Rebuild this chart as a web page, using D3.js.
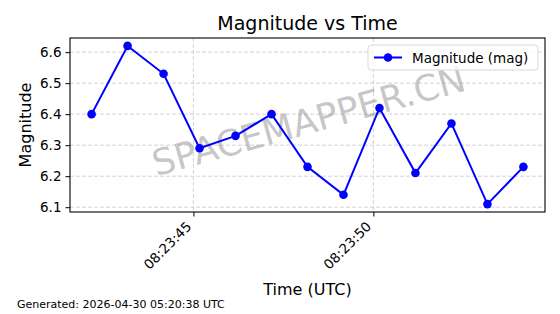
<!DOCTYPE html>
<html>
<head>
<meta charset="utf-8">
<script src="https://cdn.jsdelivr.net/npm/d3@7"></script>
<style>
  body { margin: 0; background: #fff; }
  text { font-family: "DejaVu Sans", sans-serif; fill: #000; }
</style>
</head>
<body>
<svg id="chart" width="560" height="314"></svg>
<script>
// ------- Data -------
const seconds = [42.17, 43.17, 44.17, 45.17, 46.17, 47.17, 48.17, 49.17, 50.17, 51.17, 52.17, 53.17, 54.17];
const magnitudes = [6.40, 6.62, 6.53, 6.29, 6.33, 6.40, 6.23, 6.14, 6.42, 6.21, 6.37, 6.11, 6.23];
const xTicks = [45, 50];
const xTickLabels = ['08:23:45', '08:23:50'];
const yTicks = [6.1, 6.2, 6.3, 6.4, 6.5, 6.6];

const svg = d3.select('#chart');
const margin = {top: 38, left: 70, right: 15, bottom: 102};
const width = +svg.attr('width');
const height = +svg.attr('height');
const innerWidth = width - margin.left - margin.right;
const innerHeight = height - margin.top - margin.bottom;

const toDate = s => new Date(Date.UTC(2026, 3, 30, 8, 23, 0) + s * 1000);
const data = seconds.map((s, i) => ({time: toDate(s), mag: magnitudes[i]}));

// matplotlib-like 5% margins
const tExt = d3.extent(seconds);
const tPad = (tExt[1] - tExt[0]) * 0.05;
const x = d3.scaleUtc()
    .domain([toDate(tExt[0] - tPad), toDate(tExt[1] + tPad)])
    .range([0, innerWidth]);

const mExt = d3.extent(magnitudes);
const mPad = (mExt[1] - mExt[0]) * 0.05;
const y = d3.scaleLinear()
    .domain([mExt[0] - mPad, mExt[1] + mPad])
    .range([innerHeight, 0]);

const g = svg.append('g').attr('transform', `translate(${margin.left}, ${margin.top})`);

// ------- Grid -------
g.append('g')
    .selectAll('line')
    .data(yTicks)
    .join('line')
        .attr('x1', 0).attr('x2', innerWidth)
        .attr('y1', d => y(d)).attr('y2', d => y(d))
        .attr('stroke', '#b0b0b0').attr('stroke-opacity', 0.7)
        .attr('stroke-dasharray', '4,2').attr('stroke-width', 0.8);

g.append('g')
    .selectAll('line')
    .data(xTicks)
    .join('line')
        .attr('x1', d => x(toDate(d))).attr('x2', d => x(toDate(d)))
        .attr('y1', 0).attr('y2', innerHeight)
        .attr('stroke', '#b0b0b0').attr('stroke-opacity', 0.7)
        .attr('stroke-dasharray', '4,2').attr('stroke-width', 0.8);

// ------- Watermark -------
g.append('text')
    .attr('transform', `translate(${innerWidth / 2 + 1}, ${innerHeight / 2 - 4}) rotate(-15.5)`)
    .attr('text-anchor', 'middle')
    .attr('dy', '0.35em')
    .style('font-size', '36px')
    .style('fill', '#808080')
    .style('fill-opacity', 0.45)
    .text('SPACEMAPPER.CN');

// ------- Line and markers -------
const line = d3.line().x(d => x(d.time)).y(d => y(d.mag));

g.append('path')
    .datum(data)
    .attr('d', line)
    .attr('fill', 'none')
    .attr('stroke', '#0000ff')
    .attr('stroke-width', 2);

g.append('g')
    .selectAll('circle')
    .data(data)
    .join('circle')
        .attr('cx', d => x(d.time))
        .attr('cy', d => y(d.mag))
        .attr('r', 4.3)
        .attr('fill', '#0000ff');

// ------- Axes -------
const yAxis = g.append('g')
    .call(d3.axisLeft(y).tickValues(yTicks).tickFormat(d3.format('.1f')).tickSize(4.5).tickPadding(4));

const xAxis = g.append('g')
    .attr('transform', `translate(0, ${innerHeight})`)
    .call(d3.axisBottom(x).tickValues(xTicks.map(toDate)).tickFormat((d, i) => xTickLabels[i]).tickSize(4.5));

[xAxis, yAxis].forEach(a => {
    a.attr('font-size', 13.5).attr('font-family', '"DejaVu Sans", sans-serif').attr('fill', null);
    a.select('.domain').remove();
    a.selectAll('line').attr('stroke', '#000').attr('stroke-width', 1);
    a.selectAll('text').attr('fill', '#000');
});

xAxis.attr('text-anchor', 'end');
xAxis.selectAll('text')
    .attr('y', 0)
    .attr('dy', '0.35em')
    .attr('transform', 'translate(-5, 12) rotate(-45)');

g.append('rect')
    .attr('width', innerWidth).attr('height', innerHeight)
    .attr('fill', 'none').attr('stroke', '#000').attr('stroke-width', 1.1);

// ------- Legend -------
const legend = g.append('g').attr('transform', `translate(${innerWidth - 177}, 7)`);
legend.append('rect')
    .attr('width', 170).attr('height', 25).attr('rx', 3)
    .attr('fill', '#fff').attr('fill-opacity', 0.8)
    .attr('stroke', '#d9d9d9').attr('stroke-width', 1);
legend.append('line')
    .attr('x1', 6).attr('x2', 34).attr('y1', 12.5).attr('y2', 12.5)
    .attr('stroke', '#0000ff').attr('stroke-width', 2);
legend.append('circle')
    .attr('cx', 20).attr('cy', 12.5).attr('r', 4.3).attr('fill', '#0000ff');
legend.append('text')
    .attr('x', 44).attr('y', 17.5)
    .style('font-size', '13.5px')
    .text('Magnitude (mag)');

// ------- Titles -------
svg.append('text')
    .attr('x', margin.left + innerWidth / 2).attr('y', 30)
    .attr('text-anchor', 'middle')
    .style('font-size', '19px')
    .text('Magnitude vs Time');

svg.append('text')
    .attr('x', margin.left + innerWidth / 2).attr('y', 295)
    .attr('text-anchor', 'middle')
    .style('font-size', '16px')
    .text('Time (UTC)');

svg.append('text')
    .attr('transform', `translate(31, ${margin.top + innerHeight / 2}) rotate(-90)`)
    .attr('text-anchor', 'middle')
    .style('font-size', '16px')
    .text('Magnitude');

svg.append('text')
    .attr('x', 17).attr('y', 308)
    .style('font-size', '11px')
    .text('Generated: 2026-04-30 05:20:38 UTC');
</script>
</body>
</html>
